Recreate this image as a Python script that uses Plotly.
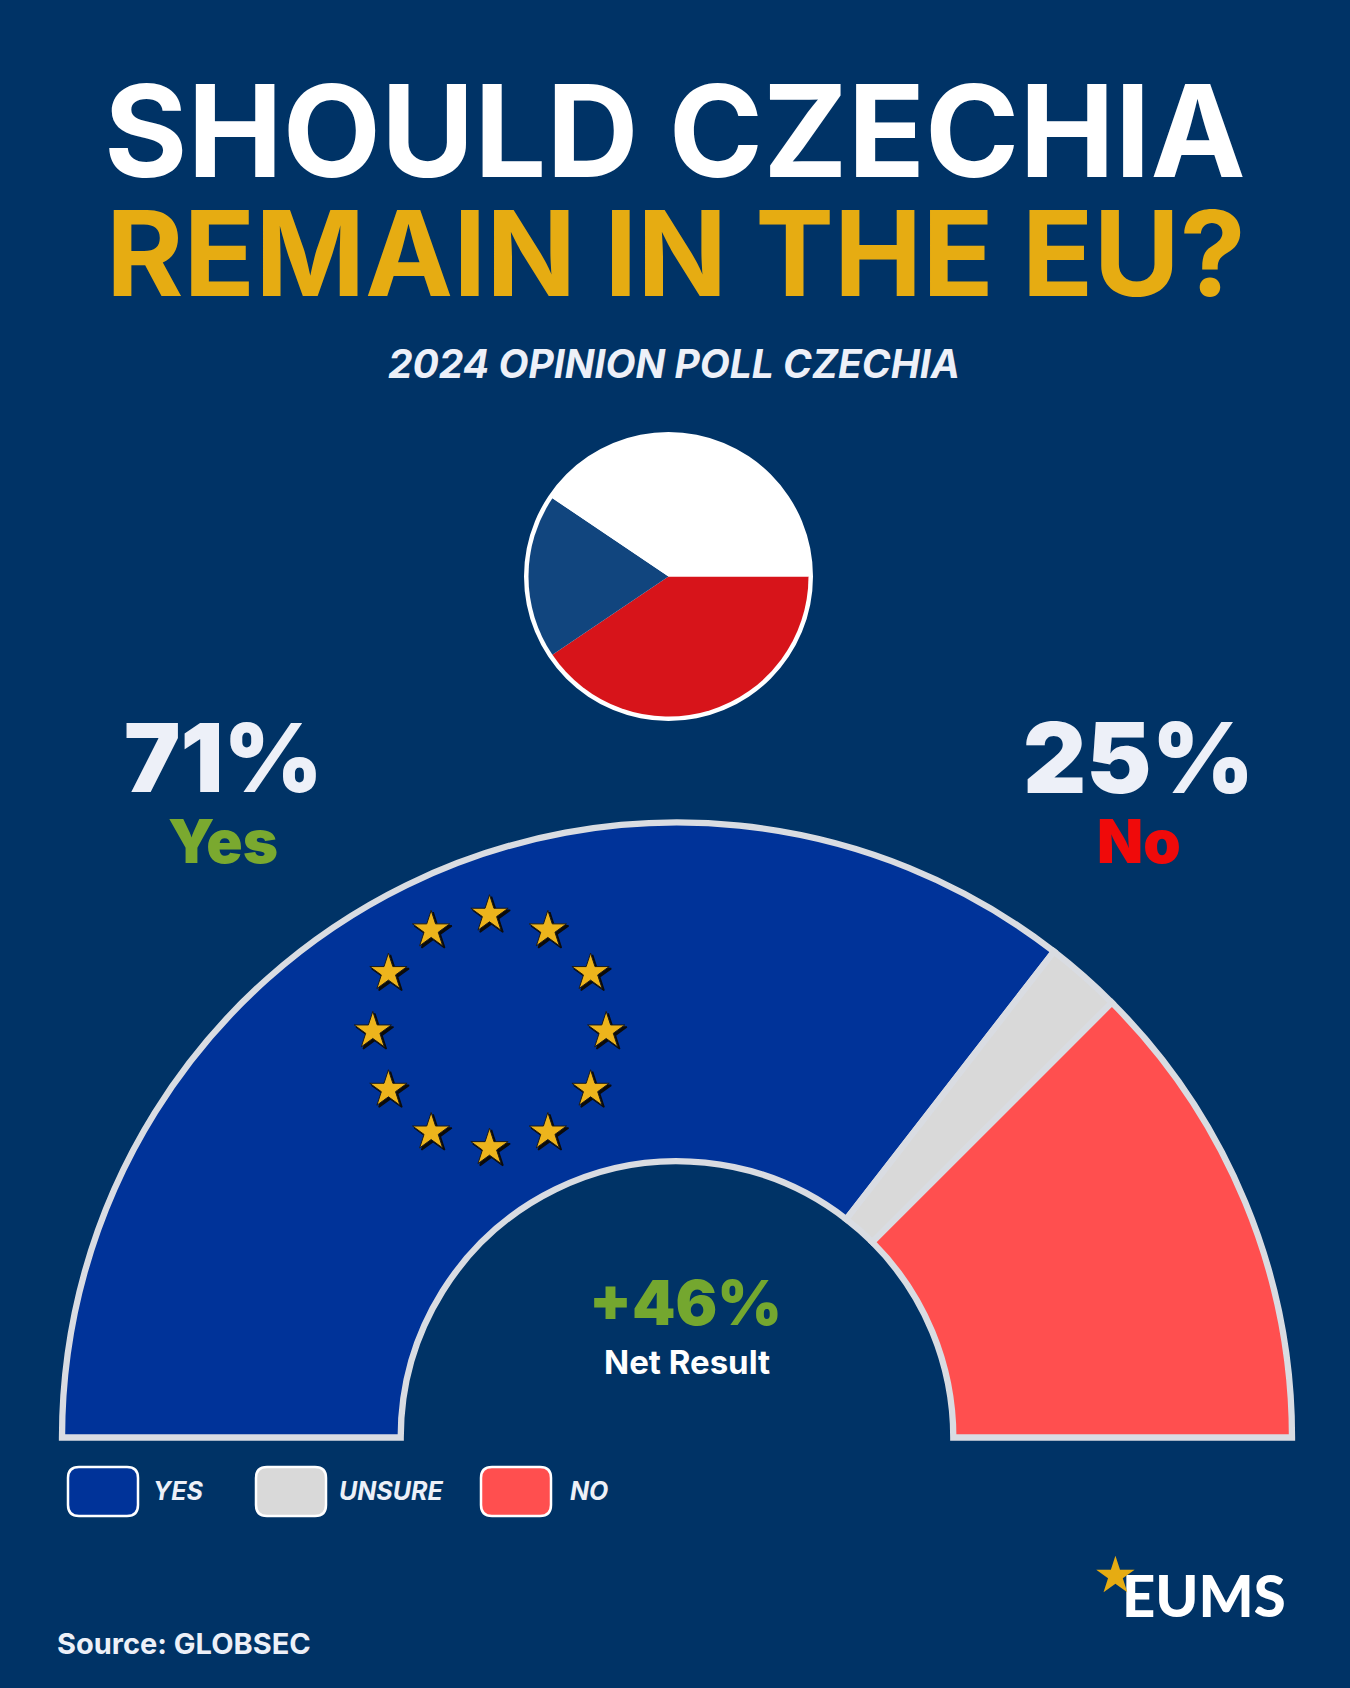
import plotly.graph_objects as go

W, H = 1350, 1688

# Poll values (%)
categories = ["YES", "UNSURE", "NO"]
poll_values = [71, 4, 25]
bar_colors = ["#003399", "#D9D9D9", "#FF4F4F"]

# Czech flag wedges, degrees round the circle centre
flag_wedges = [146, 68, 146]
flag_colors = ["#D7141A", "#11457E", "#FFFFFF"]

# EU ring
star_theta = [0, 30, 60, 90, 120, 150, 180, 210, 240, 270, 300, 330]
star_r = [1] * 12

BG = "#003366"
GOLD = "#E6AC12"
FONT = "Inter"


def px(x):
    return x / W


def py(y):
    return 1 - y / H


# turn percentages into bars on a half circle
widths = [v * 1.8 for v in poll_values]
centers = []
start = 0
for w in widths:
    centers.append(start + w / 2)
    start += w

fig = go.Figure()

fig.add_trace(go.Barpolar(
    theta=centers,
    width=widths,
    r=[1, 1, 1],
    base=0,
    marker=dict(color=bar_colors, line=dict(color="#D9DCE2", width=6.3)),
    subplot="polar",
    showlegend=False,
    hoverinfo="skip",
))

# shadow first, stars on top, each in their own small polar subplot
fig.add_trace(go.Scatterpolar(
    theta=star_theta, r=star_r, mode="markers", subplot="polar2",
    marker=dict(symbol="star", size=28, color="#0B0B0B", line=dict(color="#0B0B0B", width=1.5)),
    showlegend=False, hoverinfo="skip",
))
fig.add_trace(go.Scatterpolar(
    theta=star_theta, r=star_r, mode="markers", subplot="polar3",
    marker=dict(symbol="star", size=28, color="#EDB41C", line=dict(color="#1A1A1A", width=1)),
    showlegend=False, hoverinfo="skip",
))

# flag
FX, FY, FR = 668.5, 576.5, 140
fig.add_trace(go.Pie(
    values=flag_wedges,
    marker=dict(colors=flag_colors, line=dict(width=0)),
    sort=False, direction="clockwise", rotation=90,
    textinfo="none", hoverinfo="skip", showlegend=False,
    domain=dict(x=[px(FX - FR), px(FX + FR)], y=[py(FY + FR), py(FY - FR)]),
))

shapes = [dict(
    type="circle", xref="paper", yref="paper", layer="below",
    x0=px(FX - 144.5), x1=px(FX + 144.5), y0=py(FY + 144.5), y1=py(FY - 144.5),
    fillcolor="#FFFFFF", line=dict(width=0),
)]


def rounded_box(x0, y0, x1, y1, r):
    a, b, c, d = px(x0), px(x1), py(y0), py(y1)
    ax, ay = r / W, r / H
    return (f"M{a + ax},{c} L{b - ax},{c} Q{b},{c} {b},{c - ay} L{b},{d + ay} Q{b},{d} {b - ax},{d} "
            f"L{a + ax},{d} Q{a},{d} {a},{d + ay} L{a},{c - ay} Q{a},{c} {a + ax},{c} Z")


legend_x = [67, 255, 480]
legend_label_x = [178, 391, 589]
for color, x0 in zip(bar_colors, legend_x):
    shapes.append(dict(
        type="path", xref="paper", yref="paper",
        path=rounded_box(x0 + 1, 1467, x0 + 71, 1516, 11),
        fillcolor=color, line=dict(color="#FFFFFF", width=2.5),
    ))


def label(text, x, y, size, color, weight=700, style="normal", family=FONT, xanchor="center"):
    return dict(
        text=text, x=px(x), y=py(y), xref="paper", yref="paper",
        showarrow=False, xanchor=xanchor, yanchor="middle",
        font=dict(family=family, size=size, color=color, weight=weight, style=style),
    )


annotations = [
    label("SHOULD CZECHIA", 675, 131, 127.5, "#FFFFFF", 700),
    label("REMAIN IN THE EU?", 676, 253, 118, GOLD, 700),
    label("2024 OPINION POLL CZECHIA", 674, 363, 39, "#EDF0F8", 700, "italic"),
    label("71%", 223, 757, 95, "#EDF0F8", 900),
    label("Yes", 223, 841, 60, "#7AA92F", 900),
    label("25%", 1138, 757, 98, "#EDF0F8", 900),
    label("No", 1139, 841, 60, "#F00A0A", 900),
    label("+46%", 685, 1302, 62, "#74A72F", 900),
    label("Net Result", 687, 1362, 33, "#FFFFFF", 700),
    label("Source: GLOBSEC", 55, 1643, 29, "#EDF0F8", 700, xanchor="left"),
    label("EUMS", 1204, 1594, 58, "#FFFFFF", 900, family="Lato"),
    label("★", 1115, 1575, 50, GOLD, 400, family="DejaVu Sans"),
]
for name, x in zip(categories, legend_label_x):
    annotations.append(label(name, x, 1491, 25, "#EDF0F8", 700, "italic"))

# half doughnut: the axis runs from the centre, so the hole is simply where no bar is drawn;
# axis a bit beyond the bar and the sector a bit below 0 so strokes do not clip
CX, CY = 677, 1437.5
R_AXIS, R_OUT, R_IN = 622, 615, 276.3
SECTOR_EXTRA = 1.0
drop = R_AXIS * 0.01745
polar_layout = dict(
    domain=dict(x=[px(CX - R_AXIS), px(CX + R_AXIS)], y=[py(CY + drop), py(CY - R_AXIS)]),
    sector=[-SECTOR_EXTRA, 180 + SECTOR_EXTRA],
    bgcolor="rgba(0,0,0,0)",
    radialaxis=dict(visible=False, range=[-R_IN / (R_OUT - R_IN), (R_AXIS - R_IN) / (R_OUT - R_IN)]),
    angularaxis=dict(visible=False, direction="clockwise", rotation=180),
)


def ring_layout(cx, cy):
    rr = 140
    return dict(
        domain=dict(x=[px(cx - rr), px(cx + rr)], y=[py(cy + rr), py(cy - rr)]),
        bgcolor="rgba(0,0,0,0)",
        radialaxis=dict(visible=False, range=[0, rr / 116.7]),
        angularaxis=dict(visible=False, direction="clockwise", rotation=90),
    )


fig.update_layout(
    width=W, height=H,
    margin=dict(l=0, r=0, t=0, b=0),
    paper_bgcolor=BG,
    plot_bgcolor=BG,
    polar=polar_layout,
    polar2=ring_layout(491.5, 1033),
    polar3=ring_layout(489.5, 1031),
    shapes=shapes,
    annotations=annotations,
)

# the page body has a default margin, drop it so the figure fills the window
fig.write_html(
    "out.html",
    config={"displayModeBar": False},
    post_script="document.body.style.margin='0';",
)
